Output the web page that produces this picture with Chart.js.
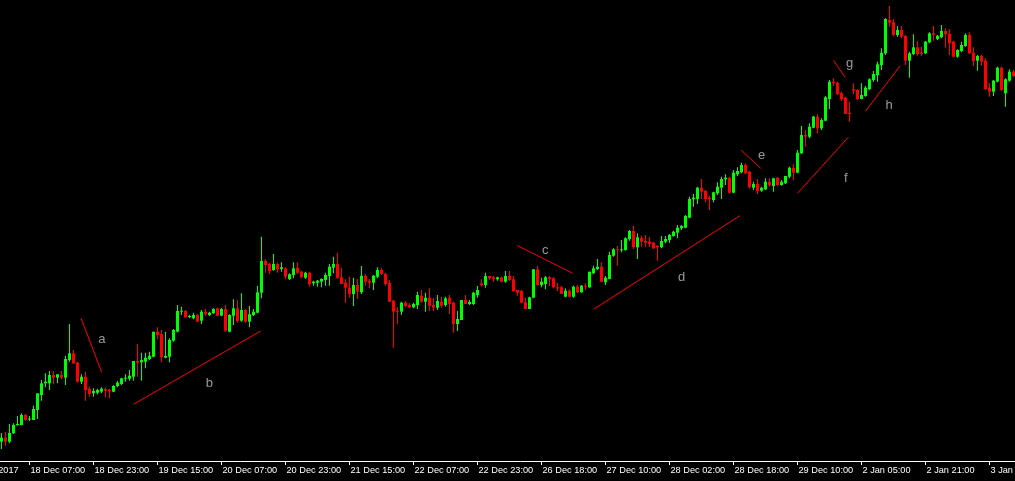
<!DOCTYPE html>
<html>
<head>
<meta charset="utf-8">
<script src="https://cdn.jsdelivr.net/npm/chart.js@4.4.1/dist/chart.umd.min.js"></script>
<style>
html,body{margin:0;padding:0;background:#000;overflow:hidden;width:1015px;height:481px;}
#wrap{position:absolute;left:-40px;top:0;width:1120px;height:481px;}
canvas{display:block;}
</style>
</head>
<body>
<div id="wrap"><canvas id="c" width="1120" height="481"></canvas></div>
<script>
// Hourly candles (price level, in chart units above the axis)
const open = [
19.3,23.3,19.3,27.7,36,36,46,41.5,41,51,
66,77.7,77.7,86,83.3,86,83.3,101,107.7,98.3,
79.3,84.3,72,67.7,68.3,69.3,72,71,69.3,75,
77,82.3,82.3,84.3,100,98.7,99.3,102,104.3,129.3,
127,103.3,104.3,120.3,129.3,149.3,150,144,142.7,146,
140.3,149.3,146,147.7,152.7,145.3,152,129.3,145.3,152.7,
140.3,151,139.3,146,148.3,168.3,200,197,191,197,
192,192.7,182,186,193.3,189.3,183.3,188.3,177.7,178.3,
179.3,181,185,193.3,197,183.7,178.3,173.3,167,176,
168.7,185.3,180.3,178.3,184.3,191,187,178.3,160.3,150.3,
149.3,158.3,156,153.7,156,165.3,159.3,163.3,156,153.3,
159.3,156,163.3,158.3,137,141,161,157,157,166,
177.7,176,185,183.7,181.7,183.7,179.3,185,181.7,171,
170,158.7,152,163.3,191.7,176,177,183.7,182.7,173.7,
173.7,164.3,170.3,164.3,174.3,168.7,175.3,173.7,187.7,192,
194.3,178.7,182,205.3,211.7,210.7,211,222,230,213.7,
223,220,219.5,218.3,215,213.7,219.3,221,225,228.3,
232.7,233.3,243.3,261.7,262,273.3,270,263.3,261,267.7,
273.3,281.7,283.3,268.3,286.7,288.7,296,289.3,273.3,277,
270.3,271.7,279.3,275,283.3,276,277.7,284.3,293,288.3,
307.7,326,324.3,333.3,344.3,332.7,340.3,362,379.3,378.3,
367.7,363.3,348.3,371.7,371,362,365,371.7,381,386,
396,407.7,441,438.7,426,431,425,400.3,407,413.7,
408.3,407.7,418.7,427.7,422,423.7,430,427,419.3,404.3,
410,415,426,408.3,400.3,405,400.3,373.3,369.3,379.3,
393.3,367.7,380.3,389.3
];
const high = [
28,29,37,37.7,45,47.7,47.3,45,55.3,67.7,
81,87.7,90,90,86.7,90,105.3,137,111,99.3,
86.7,89.3,74.3,72.7,72.3,73.7,73.7,72,76,80,
83.3,86.7,91,100,117,108.3,108.3,109.3,129.3,133.7,
131,129.3,122.7,132,156,154.3,151,146.3,148.3,147,
151,152,149.3,152.7,153.3,153,156,146.7,161.7,161,
167.7,152,155,152,175,224.3,201.7,198.3,207,198.3,
198.7,193.7,187.7,198.7,198.7,190.3,189.3,189.3,180.3,181,
182.7,188.3,197,204.3,208,193.3,181.7,184.3,183.3,182,
195,187,182,186,193.7,193.3,188.3,181,161,153.7,
159.3,160,157.7,158.3,169.3,171,168.3,172.7,162.7,166,
164.3,164.3,166,159.3,150,161,166,161,169.3,175,
181.7,188.3,185,185,184.3,184.3,190,190,185,171,
171,163.3,164.3,192,195,183.3,185,185,183.7,178.3,
175,172.7,171.7,175.3,176,176,177.7,189.3,195.3,202,
198.7,185,209.3,212.7,215,221,223.7,231,235,227.7,
225.3,226,224,219.3,216,225,225,227,230.3,236,
236,246,264.3,267,274.3,282,271,265,269.3,278.7,
284.3,286.7,284.3,291,293.7,298.3,297.7,290,279.3,282,
274.3,282.7,282.7,283.3,283.7,281,285.3,294.3,296.7,311,
335,331,337.7,345,346.7,342.7,365,381,382.7,379.3,
369.3,364.3,359.3,377.7,371.7,377.7,375,382.7,390,399.3,
412.7,442.7,455,441.7,435,435,426,409.3,426.7,420.3,
414.3,420,428.7,435,426,436,432.7,431.7,420.3,411.7,
419.3,427.7,428.7,413.7,406,406,402.7,377.7,381,394.3,
394.3,382.7,391.7,391
];
const low = [
12,15.3,17.7,27,35.3,35.7,40.3,40,41,42,
60.3,73.7,71,77,77.7,81.7,76,99.3,97,78.3,
77,60.3,64.3,64.3,66.7,67.7,63.7,62.7,68.7,73.7,
76,79.3,80.3,80.3,84.3,80.3,92.7,101,103.7,121.7,
98.7,102.7,98.7,119.3,128.7,146,143.3,143,141.7,139,
137,145,145,147,144.7,144.7,129.3,128.7,136,138.3,
139.3,138.3,133.7,145,147.7,162.7,188.3,187,190.3,188.3,
189.3,181.7,181,182.7,187,182.7,182,174.3,175.3,174.3,
173.7,175.3,175.3,187.7,182,176.7,158.3,163.3,155,162,
167,175.3,172.7,171,182.7,186,175.3,159.3,113.3,137,
146,153.7,152.7,152.7,152,158.3,149.3,150,150,151,
153.3,154.3,147,128.3,130,141,157,156,156,163.3,
174.5,173.3,181,179.3,180.3,178.7,178.3,180,169.3,165.3,
157.7,152,152,162.7,175.3,173.7,171.7,175,172.7,170,
167,163.7,163.7,163.3,167.7,168.3,171,173.3,187,191,
178.7,176,181.7,204.3,195.3,208.7,210.3,220.3,212,202,
214.3,214.3,214,212,200.3,212.7,217.7,218.3,224.3,222.7,
231,232.7,242.7,254.3,257,262,258.7,251,258.7,266,
262,276,267.7,267.7,285,287.7,286.7,272.7,271,267,
269.3,271,274.3,269.3,275.3,275.3,277,282.7,280.7,287.7,
307,314.3,322.7,332.7,327.7,331,340,352,375,366,
360,347,339.3,367,361,361.7,364.3,371,379.3,379.3,
391,406,434.3,425,424.3,422.7,396,383.3,406,405.3,
405,407,417.7,420.3,421,422.7,413.3,406,403.7,403.3,
408.7,414.3,407,395,390.3,395.3,371,364.3,365,378.7,
370.3,354.3,379.3,383.7
];
const close = [
23.3,19.3,28,36,37,46,41,42.5,52,67.7,
77.7,79.3,86,83.3,86.7,83.3,102,107.7,97.7,79.3,
84.3,71,67,70,71,72.3,70.3,70,75,78.3,
82.7,83.3,85.3,100,98.3,101,103.3,105.3,129.3,126,
103.7,105,121,131,150,150.3,143.7,145,146,139.3,
149.3,146.7,148.3,152,145.3,152,130.3,146,152.7,140,
151,139.3,146.7,149.3,168.7,200,196,190,197,192,
193.7,184.3,186.7,192.7,188.3,183.7,188.3,177,179.3,180.3,
182,186,194.3,197,183.3,177,173.3,167,176,169.3,
185.3,179.3,178.3,185.3,191,187,177,159.3,149.3,149.3,
158.3,155,153.7,157,166,159.3,163.3,155.3,153.3,160,
155.3,162.7,157,137,142,161,157,159,168.3,171,
176,185,182.7,182,183.7,179.3,185,181,170,168.3,
158.3,152,163.7,191.7,176,179.3,183.7,182,173.7,172.7,
167,170.3,164.3,174.3,168.7,175.3,174.3,189.3,192.7,194.3,
179.3,183.3,206,211.7,210.7,211.7,222.7,230,214,223.7,
219.3,218.3,217,212.7,213.7,220,222,226,229.3,233.3,
235,245,262,263.3,273.3,269.3,262,262,268.7,274.3,
282,283.3,268.3,288.3,290,296,287.7,273.7,277,270,
273.3,279.3,276,282.7,276,279.3,285,293.3,288.3,308.3,
326,324.3,334.3,344.3,332.7,341,363.7,379.3,377.7,367,
362,347,347,370.3,362,366,373.3,381.7,387,396.7,
408.3,442,438.3,426,431,424.3,400.3,407.7,413.7,407,
407,419.3,427.7,426,425.3,430,426.7,417.7,404.3,411,
416,426,407.7,400,405,399.3,372,369.3,380.3,393.3,
371,381.7,389.3,385
];

// Time axis labels (candle index where each label sits)
const tickIndex = [-9,7,23,39,55,71,87,103,119,135,151,167,183,199,215,231,247];
const tickLabels = ["18 Dec 2017","18 Dec 07:00","18 Dec 23:00","19 Dec 15:00","20 Dec 07:00",
  "20 Dec 23:00","21 Dec 15:00","22 Dec 07:00","22 Dec 23:00","26 Dec 18:00","27 Dec 10:00",
  "28 Dec 02:00","28 Dec 18:00","29 Dec 10:00","2 Jan 05:00","2 Jan 21:00","3 Jan 13:00"];

// Hand-drawn trend lines a..h (candle index / price at both ends) and their letter labels
const trendNames = ["a","b","c","d","e","f","g","h"];
const trendK1 = [19.9, 33.0, 129.0, 148.0, 184.9, 199.0, 208.0, 216.0];
const trendV1 = [142.7, 56.7, 215.3, 151.7, 311, 267.7, 400.7, 350];
const trendK2 = [25.05, 64.8, 142.8, 184.6, 189.8, 211.7, 210.9, 224.7];
const trendV2 = [88.7, 130, 187.7, 245.3, 292.7, 323.7, 383.7, 395.3];
const letterK = [25.1, 51.95, 135.95, 170.05, 190.05, 211.1, 212.0, 221.9];
const letterV = [118, 74.3, 207, 180, 302, 278.7, 394.3, 351.7];

const UP = '#00ff00', DN = '#ff0000';
const colors = open.map((o, i) => close[i] >= o ? UP : DN);
const bodies = open.map((o, i) => ({x: i, y: [o, close[i]]}));
const wicks = open.map((o, i) => ({x: i, y: [low[i], high[i]]}));

const lineSets = trendNames.map((n, j) => ({
  type: 'line', label: n,
  data: [{x: trendK1[j], y: trendV1[j]}, {x: trendK2[j], y: trendV2[j]}],
  borderColor: '#ff0000', borderWidth: 1, pointRadius: 0, fill: false, tension: 0
}));

const letterPlugin = {
  id: 'letters',
  afterDatasetsDraw(chart) {
    const {ctx, scales: {x, y}} = chart;
    ctx.save();
    ctx.font = '13px "Liberation Sans", Arial, sans-serif';
    ctx.fillStyle = '#9a9a9a';
    ctx.textAlign = 'center';
    ctx.textBaseline = 'alphabetic';
    trendNames.forEach((t, j) => {
      ctx.fillText(t, x.getPixelForValue(letterK[j]), y.getPixelForValue(letterV[j]));
    });
    ctx.restore();
  }
};

new Chart(document.getElementById('c'), {
  type: 'bar',
  data: {
    datasets: [
      ...lineSets,
      {label: 'body', data: bodies, backgroundColor: colors, barThickness: 3, minBarLength: 1,
       grouped: false, borderWidth: 0, inflateAmount: 0},
      {label: 'wick', data: wicks, backgroundColor: colors, barThickness: 1, minBarLength: 1,
       grouped: false, borderWidth: 0, inflateAmount: 0}
    ]
  },
  options: {
    responsive: false,
    animation: false,
    devicePixelRatio: 1,
    events: [],
    layout: {padding: 0},
    plugins: {legend: {display: false}, tooltip: {enabled: false}, title: {display: false}},
    scales: {
      x: {
        type: 'linear', position: 'bottom', min: -10.375, max: 269.625, offset: false, bounds: 'data',
        afterBuildTicks: s => { s.ticks = tickIndex.map(v => ({value: v})); },
        afterFit: s => { s.height = 20; s.paddingLeft = 0; s.paddingRight = 0; },
        grid: {display: true, drawOnChartArea: false, drawTicks: true, tickLength: 4,
               color: '#ffffff', lineWidth: 1, offset: false},
        border: {display: true, color: '#ffffff', width: 1},
        ticks: {autoSkip: false, maxRotation: 0, minRotation: 0, align: 'start', labelOffset: 1,
                padding: 0, color: '#ffffff',
                font: {family: '"Liberation Sans", Arial, sans-serif', size: 9.2},
                callback: (v, i) => tickLabels[i]}
      },
      y: {type: 'linear', min: 0, max: 461, display: false}
    }
  },
  plugins: [letterPlugin]
});
</script>
</body>
</html>
